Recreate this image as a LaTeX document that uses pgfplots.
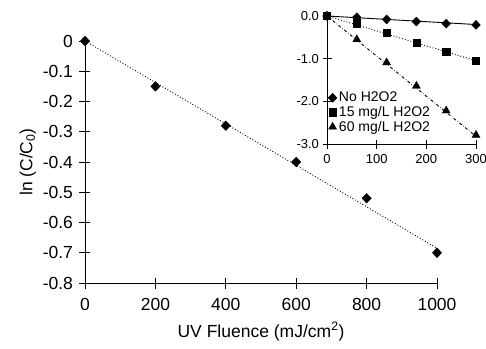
\documentclass[border=0pt]{standalone}
\usepackage{pgfplots}
\pgfplotsset{compat=1.18}
\usepackage{fontspec}
\setmainfont{Liberation Sans}
\begin{document}
\begin{tikzpicture}[font=\fontsize{17.5pt}{20pt}\selectfont]
\path[use as bounding box] (-85pt,-65pt) rectangle (401pt,283pt);
\begin{axis}[
  at={(0pt,0pt)}, anchor=south west,
  scale only axis, width=352pt, height=242pt,
  xmin=0, xmax=1000, ymin=-0.8, ymax=0,
  axis x line=bottom, axis y line=left, axis line style={-, line width=0.9pt},
  tick align=center, major tick length=11pt, tick style={line width=0.8pt, black},
  xtick={0,200,400,600,800,1000},
  ytick={-0.8,-0.7,-0.6,-0.5,-0.4,-0.3,-0.2,-0.1,0},
  yticklabels={-0.8,-0.7,-0.6,-0.5,-0.4,-0.3,-0.2,-0.1,0},
  /pgf/number format/assume math mode=true,
  /pgf/number format/1000 sep={},
  scaled x ticks=false,
  xticklabel style={font=\fontsize{17.5pt}{20pt}\selectfont, yshift=-6pt},
  yticklabel style={font=\fontsize{17.5pt}{20pt}\selectfont, xshift=-3pt},
  xlabel={UV Fluence (mJ/cm\textsuperscript{2})},
  ylabel={ln (C/C\textsubscript{0})},
  xlabel style={font=\fontsize{17.5pt}{20pt}\selectfont, yshift=-5pt},
  ylabel style={font=\fontsize{17.5pt}{20pt}\selectfont, yshift=0pt},
  clip=false,
]
\addplot[black, dotted, line width=0.9pt] coordinates {(0,0) (1000,-0.685)};
\addplot[only marks, mark=diamond*, mark size=4.8pt, mark options={xscale=1.3}, black] coordinates {
 (0,0) (200,-0.15) (400,-0.28) (600,-0.40) (800,-0.52) (1000,-0.70)};
\end{axis}
\begin{axis}[
  at={(242pt,139pt)}, anchor=south west,
  scale only axis, width=149pt, height=128pt,
  xmin=0, xmax=300, ymin=-3, ymax=0,
  axis x line=bottom, axis y line=left, axis line style={-, line width=0.9pt},
  tick align=center, major tick length=9pt, tick style={line width=0.8pt, black},
  xtick={0,100,200,300}, ytick={-3,-2,-1,0},
  /pgf/number format/assume math mode=true,
  yticklabel style={/pgf/number format/.cd, fixed, fixed zerofill, precision=1},
  ticklabel style={font=\fontsize{13pt}{15pt}\selectfont},
  xticklabel style={yshift=-2pt},
  clip=false,
  legend style={at={(0.0,0.43)}, anchor=north west, draw=none, fill=none,
    font=\fontsize{14pt}{16pt}\selectfont, row sep=-1pt, inner sep=1pt},
  legend cell align=left,
]
\addplot[black, solid, line width=0.9pt, forget plot] coordinates {(0,0) (300,-0.2)};
\addplot[black, dotted, line width=0.9pt, forget plot] coordinates {(0,0) (300,-1.05)};
\addplot[black, dash dot, line width=0.9pt, forget plot] coordinates {(0,0) (300,-2.82)};
\addplot[only marks, mark=diamond*, mark size=4.5pt, mark options={xscale=1.3}, black] coordinates {
 (0,0) (60,-0.03) (120,-0.08) (180,-0.13) (240,-0.18) (300,-0.21)};
\addplot[only marks, mark=square*, mark size=3.6pt, black] coordinates {
 (0,0) (60,-0.17) (120,-0.39) (180,-0.62) (240,-0.84) (300,-1.05)};
\addplot[only marks, mark=triangle*, mark size=4.6pt, black] coordinates {
 (0,0) (60,-0.55) (120,-1.09) (180,-1.64) (240,-2.22) (300,-2.79)};
\legend{No H2O2, 15 mg/L H2O2, 60 mg/L H2O2}
\end{axis}
\end{tikzpicture}
\end{document}
